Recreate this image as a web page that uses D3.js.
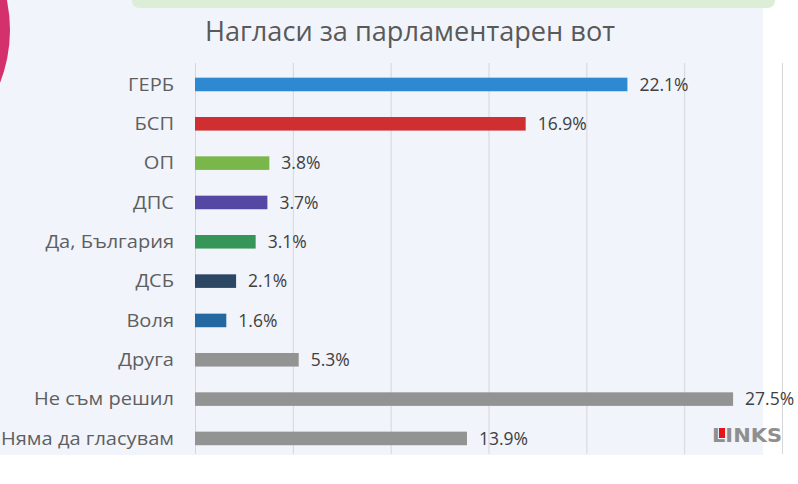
<!DOCTYPE html>
<html><head><meta charset="utf-8">
<script src="https://cdn.jsdelivr.net/npm/d3@7"></script>
<style>html,body{margin:0;padding:0;background:#fff;overflow:hidden}</style>
</head><body>
<script>
const categories = ["ГЕРБ","БСП","ОП","ДПС","Да, България","ДСБ","Воля","Друга","Не съм решил","Няма да гласувам"];
const values = [22.1,16.9,3.8,3.7,3.1,2.1,1.6,5.3,27.5,13.9];
const colors = ["#2f88d2","#cf2f31","#7ab74a","#5548a5","#36965a","#2b4763","#2468a2","#929393","#929393","#929393"];
const gridTicks = [0,5,10,15,20,25,30];
const title = "Нагласи за парламентарен вот";

const W = 798, H = 484;
const svg = d3.select("body").append("svg").attr("width", W).attr("height", H);

// backgrounds
svg.append("rect").attr("x",0).attr("y",0).attr("width",763).attr("height",455).attr("fill","#f1f4fb");
svg.append("path").attr("d","M132,-10 L775,-10 L775,0 Q775,8 767,8 L140,8 Q132,8 132,0 Z").attr("fill","#dceed5");
svg.append("circle").attr("cx",-135).attr("cy",30).attr("r",145).attr("fill","#d4306c");

const x = d3.scaleLinear().domain([0,30]).range([195,782]);
const y = d3.scaleBand().domain(categories).range([64.8,458.1]).paddingInner(0.655).paddingOuter(0.3275);

// grid
svg.append("g").selectAll("line").data(gridTicks).join("line")
  .attr("x1",d=>x(d)+0.5).attr("x2",d=>x(d)+0.5).attr("y1",63).attr("y2",454)
  .attr("stroke","#d4d6da").attr("stroke-width",1);

// bars
svg.append("g").selectAll("rect").data(categories).join("rect")
  .attr("x",x(0)).attr("y",d=>y(d)).attr("height",y.bandwidth())
  .attr("width",(d,i)=>x(values[i])-x(0)).attr("fill",(d,i)=>colors[i]);

// category labels
const labels = svg.append("g").selectAll("text").data(categories).join("text")
  .attr("x",174).attr("y",d=>y(d)+y.bandwidth()/2).attr("dy","0.36em")
  .attr("text-anchor","end").attr("font-family","Open Sans").attr("font-size",17.5)
  .attr("fill","#5f5f5f").text(d=>d);
let maxW = 0;
labels.each(function(){ maxW = Math.max(maxW, this.getComputedTextLength()); });
const k = 173 / maxW;
labels.each(function(){
  const w = this.getComputedTextLength();
  d3.select(this).attr("textLength", w*k).attr("lengthAdjust","spacingAndGlyphs");
});

// value labels
svg.append("g").selectAll("text").data(categories).join("text")
  .attr("x",(d,i)=>x(values[i])+12).attr("y",d=>y(d)+y.bandwidth()/2).attr("dy","0.36em")
  .attr("font-family","Open Sans").attr("font-size",17.5)
  .attr("fill","#404040").text((d,i)=>values[i].toFixed(1)+"%");

// title
svg.append("text").attr("x",410).attr("y",41).attr("text-anchor","middle")
  .attr("font-family","Open Sans").attr("font-size",27).attr("fill","#595959")
  .attr("textLength",410).attr("lengthAdjust","spacingAndGlyphs").text(title);

// logo
const logo = svg.append("g");
logo.append("text").attr("x",712).attr("y",442).attr("font-family","DejaVu Sans").attr("font-weight","bold")
  .attr("font-size",19).attr("fill","#8f8f8f").attr("textLength",70).attr("lengthAdjust","spacingAndGlyphs").text("LINKS");
logo.append("rect").attr("x",719).attr("y",428).attr("width",6).attr("height",10).attr("fill","#e8121c");
</script>
</body></html>
